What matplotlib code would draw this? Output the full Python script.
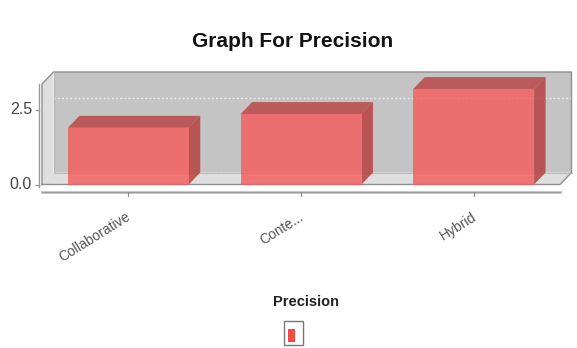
import matplotlib
matplotlib.use("Agg")
import matplotlib.pyplot as plt
from matplotlib.patches import Polygon, Rectangle
from matplotlib.transforms import blended_transform_factory

# ---- data ----
categories = ["Collaborative", "Conte...", "Hybrid"]
precision = [1.9, 2.36, 3.2]
series_name = "Precision"
title = "Graph For Precision"
yticks = [0.0, 2.5]
ytick_labels = ["0.0", "2.5"]

FONT = ["Liberation Sans", "DejaVu Sans"]

W, H = 577, 348
fig = plt.figure(figsize=(W / 100, H / 100), dpi=100)
fig.patch.set_facecolor("white")

# plot area (front plane) in pixels
px_left, px_right = 42, 560
px_top, px_bottom = 84, 184.5
ax = fig.add_axes([px_left / W, (H - px_bottom) / H,
                   (px_right - px_left) / W, (px_bottom - px_top) / H])
ax.set_xlim(-0.5, 2.5)
ax.set_ylim(0, 3.37)
ax.axis("off")

# 3D depth offset (pixels) expressed in axes fractions and data units
DX, DY = 11.5, 12
ax_w = px_right - px_left
ax_h = px_bottom - px_top
ox, oy = DX / ax_w, DY / ax_h
x0, x1 = ax.get_xlim()
y0, y1 = ax.get_ylim()
ddx = ox * (x1 - x0)
ddy = oy * (y1 - y0)

edge = "#8f8f8f"
back_col = "#c4c4c4"
floor_col = "#dedede"

# back wall
ax.add_patch(Rectangle((ox, oy), 1, 1, transform=ax.transAxes, fc=back_col,
                       ec="none", clip_on=False, zorder=1))
# left wall
ax.add_patch(Polygon([(0, 0), (0, 1), (ox, 1 + oy), (ox, oy)], closed=True,
                     transform=ax.transAxes, fc=floor_col, ec="none",
                     clip_on=False, zorder=1))
# floor
ax.add_patch(Polygon([(0, 0), (1, 0), (1 + ox, oy), (ox, oy)], closed=True,
                     transform=ax.transAxes, fc=floor_col, ec="none",
                     clip_on=False, zorder=1))

# gridlines on the back wall
for t in yticks:
    ax.plot([x0 + ddx, x1 + ddx], [t + ddy, t + ddy], color="#ececec",
            lw=1.0, ls=(0, (1.5, 1.5)), clip_on=False, zorder=2)

# wall outlines
outline = [(0, 0), (0, 1), (ox, 1 + oy), (1 + ox, 1 + oy), (1 + ox, oy), (1, 0), (0, 0)]
ax.plot([p[0] for p in outline], [p[1] for p in outline], transform=ax.transAxes,
        color=edge, lw=1.0, clip_on=False, zorder=2)
ax.plot([ox, 1 + ox], [oy, oy], transform=ax.transAxes, color="#b0b0b0",
        lw=0.6, clip_on=False, zorder=2)
ax.plot([ox, ox], [oy, 1 + oy], transform=ax.transAxes, color="#b0b0b0",
        lw=0.6, clip_on=False, zorder=2)

# bars
bar_w = 0.7
front = "#f75a5b"
dark = "#b84040"
xs = list(range(len(categories)))
ax.bar(xs, precision, width=bar_w, color=front, alpha=0.8, zorder=4,
       clip_on=False, linewidth=0)
for x, v in zip(xs, precision):
    l, r = x - bar_w / 2, x + bar_w / 2
    top = [(l, v), (r, v), (r + ddx, v + ddy), (l + ddx, v + ddy)]
    side = [(r, 0), (r, v), (r + ddx, v + ddy), (r + ddx, ddy)]
    ax.add_patch(Polygon(top, closed=True, fc=dark, ec="none", alpha=0.8,
                         clip_on=False, zorder=3))
    ax.add_patch(Polygon(side, closed=True, fc=dark, ec="none", alpha=0.85,
                         clip_on=False, zorder=3))

# value axis (left)
axis_x = -3 / ax_w
ax.plot([axis_x, axis_x], [-0.025, 1.0], transform=ax.transAxes,
        color="#9a9a9a", lw=1.0, clip_on=False, zorder=5)
ytrans = blended_transform_factory(ax.transAxes, ax.transData)
for t, lab in zip(yticks, ytick_labels):
    ax.plot([axis_x - 3 / ax_w, axis_x], [t, t], transform=ytrans,
            color="#9a9a9a", lw=1.0, clip_on=False, zorder=5)
    ax.text(axis_x - 7 / ax_w, t, lab, transform=ytrans, ha="right",
            va="center", fontsize=11.5, color="#444444", family=FONT)

# category axis (bottom)
axis_y = -(192 - px_bottom) / ax_h
ax.plot([0, 1], [axis_y, axis_y], transform=ax.transAxes, color="#c8c8c8",
        lw=2.2, clip_on=False, zorder=5)
ax.plot([0, 1], [axis_y, axis_y], transform=ax.transAxes, color="#9a9a9a",
        lw=0.7, clip_on=False, zorder=5)
xtrans = blended_transform_factory(ax.transData, ax.transAxes)
for x, lab in zip(xs, categories):
    ax.plot([x, x], [axis_y, axis_y - 4 / ax_h], transform=xtrans,
            color="#8a8a8a", lw=0.8, clip_on=False, zorder=5)
    ax.text(x + 5 / ax_w * (x1 - x0), -(210 - px_bottom) / ax_h, lab,
            transform=xtrans, rotation=32, ha="right", va="top",
            fontsize=10, color="#555555", family=FONT)

# title
fig.text(292.5 / W, (H - 47) / H, title, ha="center", va="baseline",
         fontsize=15, fontweight="bold", color="#111111", family=FONT)

# legend
fig.text(306 / W, (H - 306.5) / H, series_name, ha="center", va="baseline",
         fontsize=10.5, fontweight="bold", color="#222222", family=FONT)
fig.patches.append(Rectangle((284 / W, (H - 345) / H), 19 / W, 24 / H,
                             transform=fig.transFigure, fc="white",
                             ec="#777777", lw=1.0))
fig.patches.append(Rectangle((287.5 / W, (H - 342) / H), 7 / W, 13 / H,
                             transform=fig.transFigure, fc="#f24a4a",
                             ec="none"))

fig.savefig("out.png", dpi=100, facecolor="white")
